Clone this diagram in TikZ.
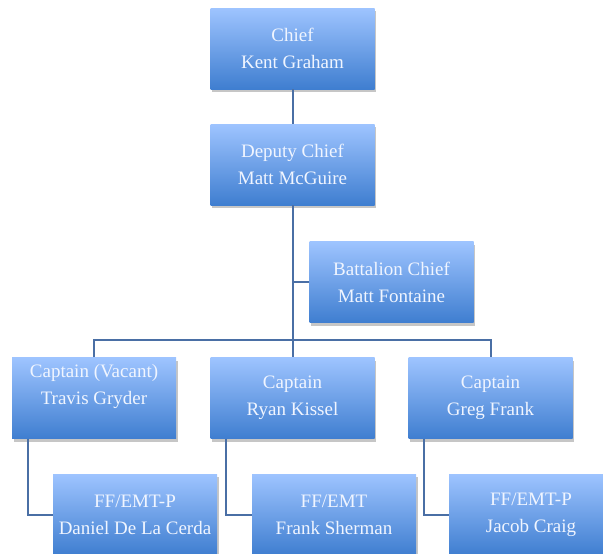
\documentclass[tikz,border=0pt]{standalone}
\usepackage{fontspec}
\setmainfont{Liberation Serif}
\usetikzlibrary{calc,shadows,positioning}
\definecolor{boxtop}{HTML}{9EC4FF}
\definecolor{boxbot}{HTML}{3F7ED0}
\definecolor{linkblue}{HTML}{4A6FA5}
\definecolor{txtwhite}{HTML}{F0F5FF}
\tikzset{
  post/.style={rectangle, minimum width=164pt, minimum height=81pt, inner sep=0pt,
    top color=boxtop, bottom color=boxbot, align=center, text=txtwhite,
    font=\fontsize{19}{27}\selectfont,
    drop shadow={opacity=0.45, shadow xshift=1.5pt, shadow yshift=-3pt}},
  link/.style={draw=linkblue, line width=2pt}
}
\begin{document}
\begin{tikzpicture}[x=1pt, y=-1pt]
  \clip (0,0) rectangle (603,554);
  \useasboundingbox (0,0) rectangle (603,554);
  \node[post] (chief) at (292.5,48.5) {Chief\\Kent Graham};
  \node[post] (deputy) at (292.5,164.5) {Deputy Chief\\Matt McGuire};
  \node[post] (batt) at (391.5,282) {Battalion Chief\\Matt Fontaine};
  \node[post] (capA) at (94,398) {Captain (Vacant)\\Travis Gryder\\\mbox{}};
  \node[post] (capB) at (292.5,398) {Captain\\Ryan Kissel};
  \node[post] (capC) at (490.5,398) {Captain\\Greg Frank};
  \node[post] (ffA) at (135,514.5) {FF/EMT-P\\Daniel De La Cerda};
  \node[post] (ffB) at (334,514.5) {FF/EMT\\Frank Sherman};
  \node[post] (ffC) at (531,514.5) {FF/EMT-P\\Jacob Craig};
  \coordinate (bus) at (292.5,340);
  \draw[link] (chief) -- (deputy);
  \draw[link] (deputy) -- (capB);
  \draw[link] (batt.west) -- (batt.west -| deputy.south);
  \draw[link] (capA.north) |- (bus) -| (capC.north);
  \draw[link] ($(capA.south west)+(16,0)$) |- (ffA.west);
  \draw[link] ($(capB.south west)+(16,0)$) |- (ffB.west);
  \draw[link] ($(capC.south west)+(16,0)$) |- (ffC.west);
\end{tikzpicture}
\end{document}
